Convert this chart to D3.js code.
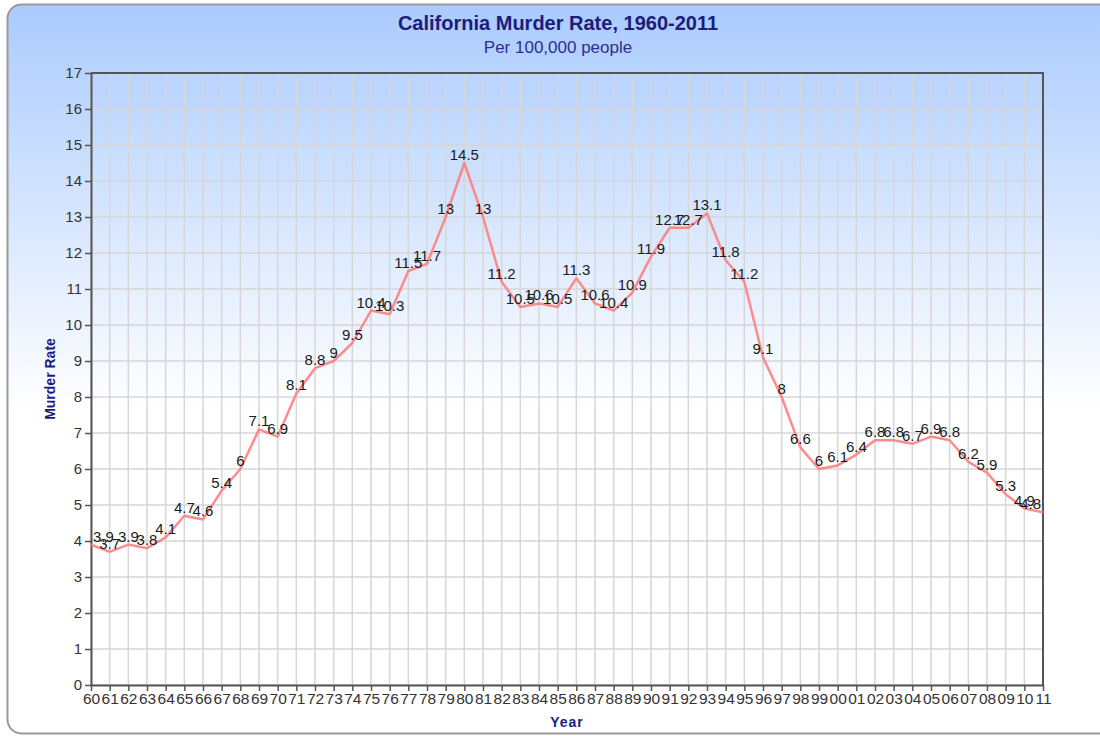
<!DOCTYPE html>
<html>
<head>
<meta charset="utf-8">
<script src="https://cdn.jsdelivr.net/npm/d3@7"></script>
<style>
  body { margin: 0; background: #ffffff; }
  svg { display: block; font-family: "Liberation Sans", Arial, sans-serif; }
</style>
</head>
<body>
<div id="my_dataviz"></div>
<script>
// Years and murder rates (per 100,000 people)
const years = [1960, 1961, 1962, 1963, 1964, 1965, 1966, 1967, 1968, 1969,
  1970, 1971, 1972, 1973, 1974, 1975, 1976, 1977, 1978, 1979,
  1980, 1981, 1982, 1983, 1984, 1985, 1986, 1987, 1988, 1989,
  1990, 1991, 1992, 1993, 1994, 1995, 1996, 1997, 1998, 1999,
  2000, 2001, 2002, 2003, 2004, 2005, 2006, 2007, 2008, 2009,
  2010, 2011];
const rates = [3.9, 3.7, 3.9, 3.8, 4.1, 4.7, 4.6, 5.4, 6, 7.1,
  6.9, 8.1, 8.8, 9, 9.5, 10.4, 10.3, 11.5, 11.7, 13,
  14.5, 13, 11.2, 10.5, 10.6, 10.5, 11.3, 10.6, 10.4, 10.9,
  11.9, 12.7, 12.7, 13.1, 11.8, 11.2, 9.1, 8, 6.6, 6,
  6.1, 6.4, 6.8, 6.8, 6.7, 6.9, 6.8, 6.2, 5.9, 5.3,
  4.9, 4.8];
const yTicks = d3.range(0, 18);

const titleText = 'California Murder Rate, 1960-2011';
const subtitleText = 'Per 100,000 people';
const xTitle = 'Year';
const yTitle = 'Murder Rate';

const data = years.map((y, i) => ({ year: y, value: rates[i] }));

const W = 1100, H = 736;
const plot = { left: 91, right: 1043, top: 73, bottom: 685 };
const navy = '#1c1c7a';

const svg = d3.select('#my_dataviz').append('svg')
  .attr('width', W)
  .attr('height', H);

// Fondo con degradado
const defs = svg.append('defs');
const grad = defs.append('linearGradient')
  .attr('id', 'bg')
  .attr('gradientUnits', 'userSpaceOnUse')
  .attr('x1', 0).attr('y1', 0)
  .attr('x2', 0).attr('y2', 410);
grad.append('stop').attr('offset', '0%').attr('stop-color', '#a9cafe');
grad.append('stop').attr('offset', '100%').attr('stop-color', '#ffffff');

svg.append('rect')
  .attr('x', 7.5)
  .attr('y', 4.5)
  .attr('width', 1110)
  .attr('height', 729)
  .attr('rx', 14)
  .attr('fill', 'url(#bg)')
  .attr('stroke', '#9a9a9a')
  .attr('stroke-width', 2);

// Escalas
const xScale = d3.scaleLinear()
  .domain([years[0], years[years.length - 1]])
  .range([plot.left, plot.right]);
const yScale = d3.scaleLinear()
  .domain([0, 17])
  .range([plot.bottom, plot.top]);

// Rejilla
svg.append('g')
  .selectAll('line')
  .data(years)
  .enter().append('line')
  .attr('x1', d => xScale(d)).attr('x2', d => xScale(d))
  .attr('y1', plot.top).attr('y2', plot.bottom)
  .attr('stroke', '#d6d6d6')
  .attr('stroke-width', 1.5);

svg.append('g')
  .selectAll('line')
  .data(yTicks)
  .enter().append('line')
  .attr('x1', plot.left).attr('x2', plot.right)
  .attr('y1', d => yScale(d)).attr('y2', d => yScale(d))
  .attr('stroke', '#d6d6d6')
  .attr('stroke-width', 1.5);

// Ejes
const xAxis = svg.append('g')
  .attr('transform', 'translate(0,' + plot.bottom + ')')
  .call(d3.axisBottom(xScale)
    .tickValues(years)
    .tickSize(6)
    .tickSizeOuter(0)
    .tickFormat(d => String(d % 100).padStart(2, '0')));

const yAxis = svg.append('g')
  .attr('transform', 'translate(' + plot.left + ',0)')
  .call(d3.axisLeft(yScale)
    .tickValues(yTicks)
    .tickSize(6)
    .tickSizeOuter(0)
    .tickFormat(d3.format('d')));

[xAxis, yAxis].forEach(ax => {
  ax.select('.domain').attr('stroke', '#555').attr('stroke-width', 2);
  ax.selectAll('.tick line').attr('stroke', '#555').attr('stroke-width', 1.5);
  ax.selectAll('.tick text')
    .attr('fill', '#333')
    .style('font-family', '"Liberation Sans", Arial, sans-serif');
});
xAxis.selectAll('.tick text').style('font-size', '15.5px').attr('y', 8);
yAxis.selectAll('.tick text').style('font-size', '15px').attr('x', -9);

// Borde superior y derecho del área
svg.append('path')
  .attr('d', `M${plot.left},${plot.top}H${plot.right}V${plot.bottom}`)
  .attr('fill', 'none')
  .attr('stroke', '#555')
  .attr('stroke-width', 2);

// Línea
const line = d3.line()
  .x(d => xScale(d.year))
  .y(d => yScale(d.value));

svg.append('path')
  .datum(data)
  .attr('d', line)
  .attr('fill', 'none')
  .attr('stroke', '#ff7f7f')
  .attr('stroke-opacity', 0.9)
  .attr('stroke-width', 2.5)
  .attr('stroke-linejoin', 'round');

// Etiquetas de valor
const labels = svg.append('g')
  .selectAll('text')
  .data(data)
  .enter().append('text')
  .attr('y', d => yScale(d.value) - 3)
  .attr('text-anchor', 'middle')
  .style('font-size', '15px')
  .attr('fill', '#1a1a1a')
  .text(d => d.value);

labels.attr('x', function (d) {
  const w = this.getComputedTextLength();
  const px = xScale(d.year);
  return Math.max(plot.left + w / 2 + 2, Math.min(plot.right - w / 2 - 2, px));
});

// Títulos
svg.append('text')
  .attr('x', 558)
  .attr('y', 30)
  .attr('text-anchor', 'middle')
  .style('font-size', '20px')
  .style('font-weight', 'bold')
  .attr('fill', navy)
  .text(titleText);

svg.append('text')
  .attr('x', 558)
  .attr('y', 53)
  .attr('text-anchor', 'middle')
  .style('font-size', '17px')
  .attr('fill', '#2e2e8e')
  .text(subtitleText);

svg.append('text')
  .attr('x', (plot.left + plot.right) / 2)
  .attr('y', 727)
  .attr('text-anchor', 'middle')
  .style('font-size', '14px')
  .style('font-weight', 'bold')
  .style('letter-spacing', '1px')
  .attr('fill', navy)
  .text(xTitle);

svg.append('text')
  .attr('transform', 'translate(55,' + (plot.top + plot.bottom) / 2 + ') rotate(-90)')
  .attr('text-anchor', 'middle')
  .style('font-size', '14px')
  .style('font-weight', 'bold')
  .attr('fill', navy)
  .text(yTitle);
</script>
</body>
</html>
